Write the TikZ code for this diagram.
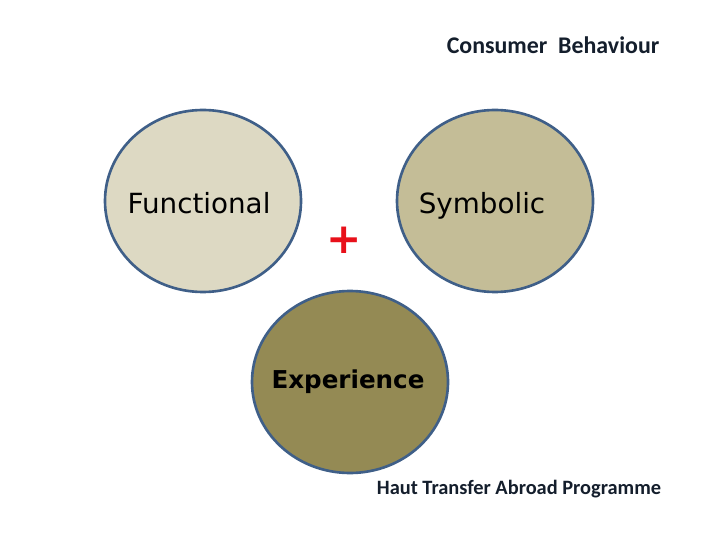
\documentclass[tikz,border=0pt]{standalone}
\usepackage{fontspec}
\usepackage{xcolor}
\usepackage{tikz}
\usetikzlibrary{shapes.geometric,positioning,calc}
\setmainfont{DejaVu Sans}
\newfontfamily\capfont{Carlito}
\definecolor{cbedge}{HTML}{3F5F88}
\definecolor{cbfunc}{HTML}{DDD9C3}
\definecolor{cbsym}{HTML}{C4BD97}
\definecolor{cbexp}{HTML}{948A54}
\definecolor{cbplus}{HTML}{E8101A}
\definecolor{cbtext}{HTML}{141E2C}
\tikzset{
  blob/.style={ellipse,draw=cbedge,line width=0.75pt,minimum width=1.96cm,
               minimum height=1.82cm,inner sep=0pt},
  blobtext/.style={inner sep=0pt,font=\fontsize{7.9}{10}\selectfont,text=black},
  caption/.style={inner sep=0pt,font=\capfont\bfseries\fontsize{6.8}{8}\selectfont,text=cbtext},
}

\begin{document}
\begin{tikzpicture}
  \useasboundingbox (0,0) rectangle (7.2,5.4);
  \node[blob,fill=cbfunc] (func) at (2.03,3.39) {};
  \node[blob,fill=cbsym] (sym) at (4.95,3.39) {};
  \node[blob,fill=cbexp] (exp) at (3.50,1.58) {};
  \node[blobtext] (funclbl) at ($(func.center)+(-0.04,-0.02)$) {Functional};
  \node[blobtext] (symlbl) at ($(sym.center)+(-0.13,-0.05)$) {Symbolic};
  \node[blobtext,font=\bfseries\fontsize{7.0}{9}\selectfont] (explbl) at ($(exp.center)+(-0.02,0)$) {Experience};
  \node[inner sep=0pt,text=cbplus,font=\bfseries\fontsize{12}{14}\selectfont] (plus) at (3.44,3.00) {+};
  \node[caption] (title) at (5.53,4.95) {Consumer\ \ Behaviour};
  \node[caption,font=\capfont\bfseries\fontsize{5.8}{7}\selectfont] (footer) at (5.19,0.51) {Haut Transfer Abroad Programme};
\end{tikzpicture}
\end{document}
